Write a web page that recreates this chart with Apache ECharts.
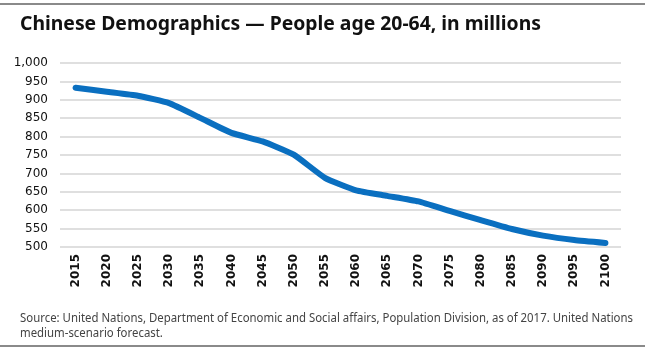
<!DOCTYPE html>
<html>
<head>
<meta charset="utf-8">
<script src="https://cdn.jsdelivr.net/npm/echarts@6/dist/echarts.min.js"></script>
<style>
  html, body { margin: 0; padding: 0; background: #fff; }
  #chart { width: 645px; height: 352px; }
</style>
</head>
<body>
<div id="chart"></div>
<script>
// Working-age population (20-64), millions
const years = ['2015', '2020', '2025', '2030', '2035', '2040', '2045', '2050', '2055',
    '2060', '2065', '2070', '2075', '2080', '2085', '2090', '2095', '2100'];
const people = [933, 922, 911, 891, 851, 810, 787, 751, 688,
    654, 639, 624, 598, 573, 549, 531, 519, 511];

const titleText = 'Chinese Demographics \u2014 People age 20-64, in millions';
const sourceLines = [
    'Source: United Nations, Department of Economic and Social affairs, Population Division, as of 2017. United Nations',
    'medium-scenario forecast.'
];

const titleFont = 'bold 20px "Noto Sans"';
const sourceFont = '12px "Noto Sans"';

// squeeze text horizontally to the reference's condensed widths
function textWidth(str, font) {
    const ctx = document.createElement('canvas').getContext('2d');
    ctx.font = font;
    return ctx.measureText(str).width;
}
const titleScale = 521 / textWidth(titleText, titleFont);
const sourceScale = 613 / textWidth(sourceLines[0], sourceFont);

const chart = echarts.init(document.getElementById('chart'));
chart.setOption({
    animation: false,
    backgroundColor: '#fff',
    grid: { left: 60, right: 24, top: 63, bottom: 105, containLabel: false },
    xAxis: {
        type: 'category',
        data: years,
        boundaryGap: true,
        axisLine: { show: false },
        axisTick: { show: false },
        axisLabel: {
            rotate: 90,
            margin: 7,
            color: '#111',
            fontFamily: 'DejaVu Sans',
            fontSize: 12,
            fontWeight: 'bold'
        }
    },
    yAxis: {
        type: 'value',
        min: 500,
        max: 1000,
        interval: 50,
        axisLine: { show: false },
        axisTick: { show: false },
        splitLine: { lineStyle: { color: '#d4d4d4', width: 1.5 } },
        axisLabel: {
            margin: 12,
            color: '#111',
            fontFamily: 'DejaVu Sans',
            fontSize: 12,
            formatter: function (v) { return v.toLocaleString('en-US'); }
        }
    },
    series: [{
        type: 'line',
        data: people,
        symbol: 'none',
        smooth: 0.15,
        lineStyle: { color: '#0a6fc0', width: 6, cap: 'round', join: 'round' }
    }],
    graphic: [
        { type: 'rect', shape: { x: 0, y: 3, width: 645, height: 2 }, style: { fill: '#8a8a8a' } },
        { type: 'rect', shape: { x: 0, y: 345, width: 645, height: 2 }, style: { fill: '#8a8a8a' } },
        {
            type: 'text', x: 20, y: 14, scaleX: titleScale,
            style: { text: titleText, fill: '#111', font: titleFont }
        },
        {
            type: 'text', x: 20, y: 311, scaleX: sourceScale,
            style: {
                text: sourceLines.join('\n'),
                fill: '#444',
                font: sourceFont,
                lineHeight: 15
            }
        }
    ]
});
</script>
</body>
</html>
